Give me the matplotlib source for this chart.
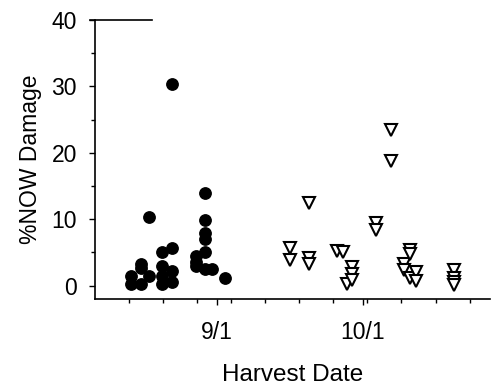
import matplotlib
matplotlib.use("Agg")
import matplotlib.pyplot as plt
from matplotlib.lines import Line2D
from matplotlib.ticker import FixedLocator, MultipleLocator

plt.rcParams['font.family'] = ['Liberation Sans', 'DejaVu Sans']

# Harvest day offsets relative to 9/1 (days) and % NOW damage
early_days = [-17.5, -17.5, -15.5, -15.5, -15.5, -14, -14,
              -11.2, -11.2, -11.2, -11.2, -9.2, -9.2, -9.2, -9.2,
              -4.2, -4.2, -4.2, -2.3, -2.3, -2.3, -2.3, -2.3, -2.3, -1, 1.8]
early_damage = [1.4, 0.3, 2.7, 0.3, 3.2, 10.3, 1.4,
                5.0, 2.9, 1.4, 0.2, 30.3, 5.7, 2.2, 0.5,
                4.4, 2.9, 3.6, 13.9, 9.9, 8.0, 7.0, 5.0, 2.5, 2.5, 1.2]

late_days = [15, 15, 19, 19, 19, 24.7, 26, 26.8, 27.8, 27.8, 27.8,
             32.8, 32.8, 35.8, 35.8, 38.6, 38.6, 39.8, 39.8, 39.8,
             40.9, 40.9, 48.8, 48.8, 48.8, 48.8]
late_damage = [5.7, 3.9, 12.4, 4.2, 3.2, 5.3, 5.0, 0.3, 2.8, 1.8, 0.9,
               9.4, 8.4, 23.5, 18.8, 3.2, 2.4, 5.4, 4.8, 1.2,
               2.0, 0.7, 2.3, 1.2, 0.5, 0.1]

major_days = [0, 30]
major_labels = ['9/1', '10/1']
minor_days = [-18, -11, -4, 3, 10, 17, 24, 31, 38, 45, 52]

fig = plt.figure(figsize=(4.91, 3.86), dpi=100)
ax = fig.add_axes([95/491, 1 - 299/386, 395/491, (299 - 20)/386])

ax.plot(early_days, early_damage, linestyle='none', marker='o', ms=8.2,
        mfc='black', mec='black', clip_on=False)
ax.plot(late_days, late_damage, linestyle='none', marker='v', ms=8.6,
        mfc='white', mec='black', mew=1.5, clip_on=False)

ax.set_xlim(-25, 56.2)
ax.set_ylim(-2, 40)

ax.spines['top'].set_visible(False)
ax.spines['right'].set_visible(False)
for s in ('left', 'bottom'):
    ax.spines[s].set_linewidth(1.2)

ax.xaxis.set_major_locator(FixedLocator(major_days))
ax.set_xticklabels(major_labels)
ax.xaxis.set_minor_locator(FixedLocator(minor_days))
ax.yaxis.set_major_locator(MultipleLocator(10))
ax.yaxis.set_minor_locator(MultipleLocator(5))

ax.tick_params(axis='both', which='major', direction='out', length=4, width=1,
               labelsize=16.5)
ax.tick_params(axis='both', which='minor', direction='out', length=3, width=1)
ax.tick_params(axis='x', which='major', pad=12)
ax.tick_params(axis='y', which='major', pad=9)

ax.set_ylabel('%NOW Damage', fontsize=16.5, labelpad=7)
ax.set_xlabel('Harvest Date', fontsize=17.5, labelpad=14.5)

# short top segment at the 40 level
ax.add_line(Line2D([-0.013, 0.145], [1, 1], transform=ax.transAxes,
                   color='black', lw=1.2, clip_on=False))

fig.savefig('out.png', dpi=100)
